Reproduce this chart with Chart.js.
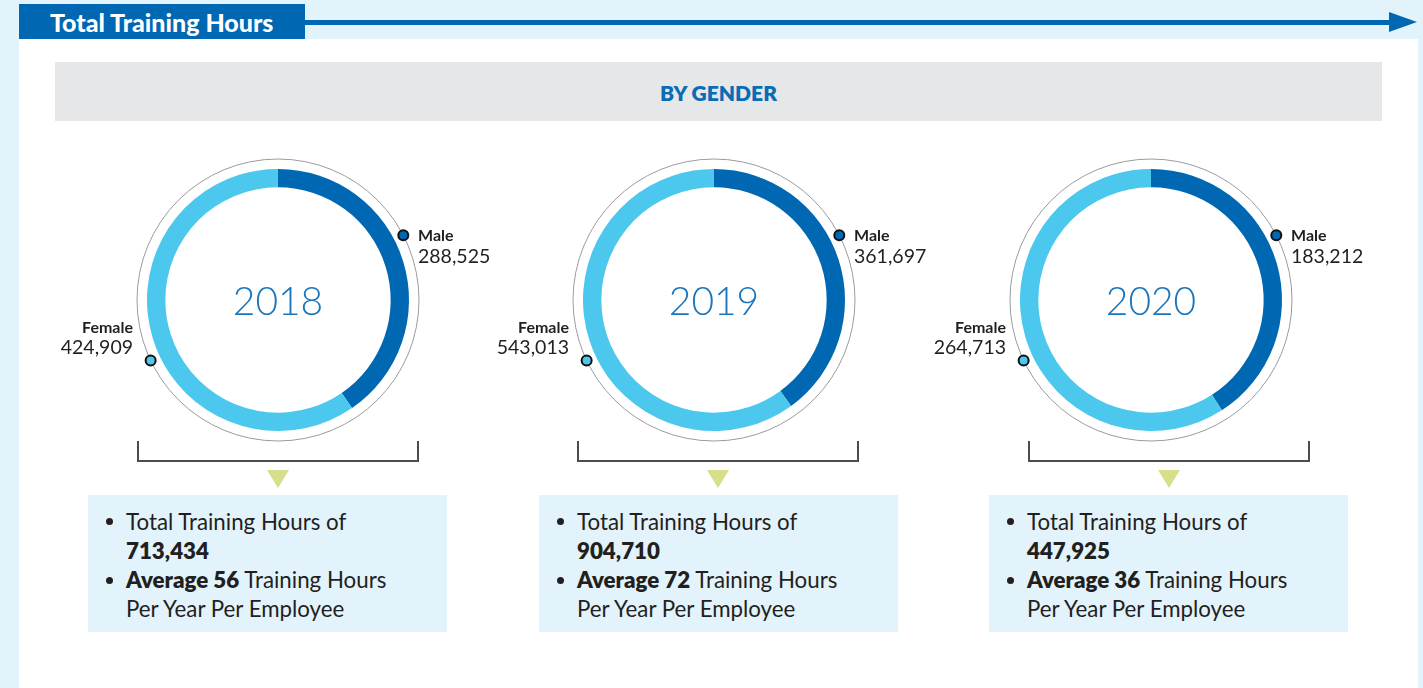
<!DOCTYPE html>
<html>
<head>
<meta charset="utf-8">
<script src="https://cdn.jsdelivr.net/npm/chart.js@4.4.1/dist/chart.umd.min.js"></script>
<style>
  body{margin:0;width:1423px;height:688px;background:#e2f3fb;font-family:Lato,"Open Sans",sans-serif;overflow:hidden;position:relative;color:#231f20}
  .panel{position:absolute;left:19px;top:39px;width:1399px;height:649px;background:#fff}
  .titlebar{position:absolute;left:19px;top:4px;width:286px;height:35px;background:#0068b2;color:#fff;font-weight:900;font-size:25px;line-height:36px;box-sizing:border-box;padding-left:31px;white-space:nowrap}
  .rule{position:absolute;left:305px;top:20px;width:1090px;height:5px;background:#0068b2}
  .arrow{position:absolute;left:1389px;top:12px;width:0;height:0;border-top:10px solid transparent;border-bottom:10px solid transparent;border-left:28px solid #0068b2}
  .band{position:absolute;left:55px;top:62px;width:1327px;height:59px;background:#e6e7e8;color:#0a6cb5;font-weight:800;font-size:21px;line-height:59px;text-align:center;padding-top:1px;box-sizing:border-box}
  canvas{position:absolute}
  .bracket{position:absolute;top:441px;height:19px;border:2px solid #4d4d4d;border-top:none}
  .tri{position:absolute;top:470px;width:0;height:0;border-left:11px solid transparent;border-right:11px solid transparent;border-top:18px solid #d7df8c}
  .box{position:absolute;top:495px;width:359px;height:137px;background:#e2f3fb;font-size:22.3px;line-height:29px;box-sizing:border-box;padding:12px 0 0 38px;white-space:nowrap}
  .box .dot{position:absolute;left:18px;width:7px;height:7px;border-radius:50%;background:#231f20}
  .box b{font-weight:800}
</style>
</head>
<body>
<div class="panel"></div>
<div class="rule"></div>
<div class="arrow"></div>
<div class="titlebar">Total Training Hours</div>
<div class="band">BY GENDER</div>
<div id="charts"></div>
<script>
// training hours split by gender, per year
const years = ['2018', '2019', '2020'];
const genders = ['Male', 'Female'];
const maleHours = [288525, 361697, 183212];
const femaleHours = [424909, 543013, 264713];
const totalHours = [713434, 904710, 447925];
const avgHours = [56, 72, 36];

const centersX = [278, 714, 1151];
const centerY = 300;
const boxLeft = [88, 539, 989];
const footX = [278, 718, 1169];
const colors = ['#0068b2', '#4cc8ee'];

const fmt = n => n.toLocaleString('en-US');

// outer gray ring, marker dots, value labels and the year in the middle
const decorPlugin = {
  id: 'decor',
  afterDatasetsDraw(chart) {
    const arc = chart.getDatasetMeta(0).data[0];
    const cx = arc.x, cy = arc.y, r = arc.outerRadius + 10;
    const ctx = chart.ctx;
    const i = chart.options.plugins.decor.index;
    ctx.save();
    ctx.beginPath();
    ctx.arc(cx, cy, r, 0, Math.PI * 2);
    ctx.strokeStyle = '#9b9b9b';
    ctx.lineWidth = 1;
    ctx.stroke();

    const marks = [[62.7, colors[0]], [244.6, colors[1]]];
    marks.forEach(([deg, c]) => {
      const a = deg * Math.PI / 180;
      ctx.beginPath();
      ctx.arc(cx + r * Math.sin(a), cy - r * Math.cos(a), 5, 0, Math.PI * 2);
      ctx.fillStyle = c;
      ctx.fill();
      ctx.lineWidth = 2;
      ctx.strokeStyle = '#111';
      ctx.stroke();
    });

    ctx.fillStyle = '#231f20';
    ctx.textBaseline = 'alphabetic';
    ctx.textAlign = 'left';
    ctx.font = '700 16px Lato';
    ctx.fillText(genders[0], cx + 140, cy - 59);
    ctx.font = '400 19.5px Lato';
    ctx.fillText(fmt(maleHours[i]), cx + 140, cy - 37);
    ctx.textAlign = 'right';
    ctx.font = '700 16px Lato';
    ctx.fillText(genders[1], cx - 145, cy + 33);
    ctx.font = '400 19.5px Lato';
    ctx.fillText(fmt(femaleHours[i]), cx - 145, cy + 54);

    ctx.textAlign = 'center';
    ctx.fillStyle = '#1a75bb';
    ctx.font = '300 39px Lato';
    ctx.fillText(years[i], cx, cy + 15);
    ctx.restore();
  }
};

const holder = document.getElementById('charts');
years.forEach((y, i) => {
  const cv = document.createElement('canvas');
  cv.width = 440;
  cv.height = 330;
  cv.style.left = (centersX[i] - 220) + 'px';
  cv.style.top = (centerY - 165) + 'px';
  holder.appendChild(cv);

  new Chart(cv.getContext('2d'), {
    type: 'doughnut',
    data: {
      labels: genders,
      datasets: [{
        data: [maleHours[i], femaleHours[i]],
        backgroundColor: colors,
        borderWidth: 0
      }]
    },
    options: {
      responsive: false,
      animation: false,
      radius: 131,
      cutout: '86%',
      plugins: {
        legend: { display: false },
        tooltip: { enabled: false },
        decor: { index: i }
      }
    },
    plugins: [decorPlugin]
  });

  const br = document.createElement('div');
  br.className = 'bracket';
  br.style.left = (footX[i] - 141) + 'px';
  br.style.width = '278px';
  document.body.appendChild(br);

  const tri = document.createElement('div');
  tri.className = 'tri';
  tri.style.left = (footX[i] - 11) + 'px';
  document.body.appendChild(tri);

  const box = document.createElement('div');
  box.className = 'box';
  box.style.left = boxLeft[i] + 'px';
  box.innerHTML =
    '<span class="dot" style="top:23px"></span>' +
    'Total Training Hours of<br><b>' + fmt(totalHours[i]) + '</b><br>' +
    '<span class="dot" style="top:82px"></span>' +
    '<b>Average ' + avgHours[i] + '</b> Training Hours<br>Per Year Per Employee';
  document.body.appendChild(box);
});
</script>
</body>
</html>
